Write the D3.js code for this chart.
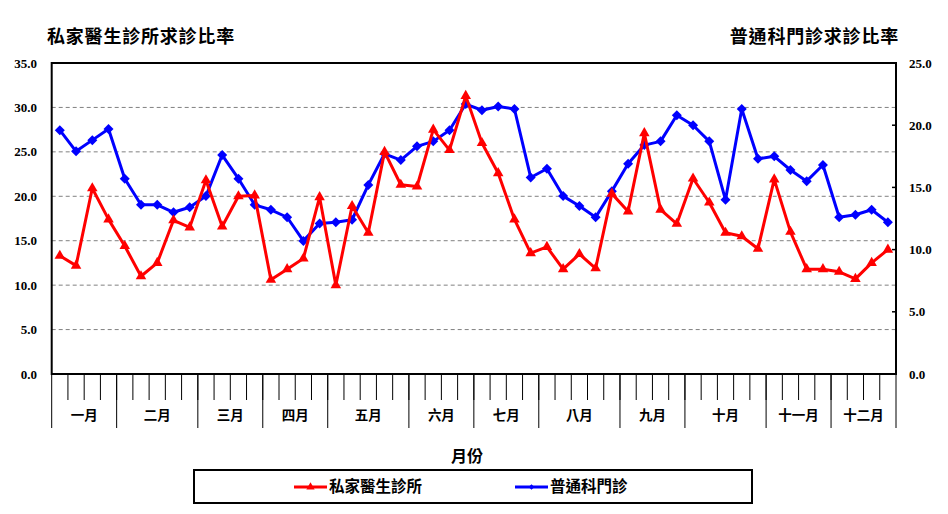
<!DOCTYPE html>
<html><head><meta charset="utf-8">
<script src="https://cdn.jsdelivr.net/npm/d3@7"></script>
<style>
body{margin:0;background:#fff;}
svg{display:block;}
.cjk{font-family:"Noto Sans CJK TC","Noto Sans CJK SC",sans-serif;font-weight:bold;}
.num{font-family:"Liberation Serif","Times New Roman",serif;font-weight:bold;}
</style>
</head><body>
<script>
const monthLabels = ["一月","二月","三月","四月","五月","六月","七月","八月","九月","十月","十一月","十二月"];
const weeksPerMonth = [4,5,4,4,5,4,4,5,4,5,4,4];
const privateClinic = [13.3,12.2,20.9,17.4,14.4,11.0,12.5,17.3,16.5,21.8,16.6,20.0,20.1,10.6,11.8,13.0,19.9,10.0,18.9,15.9,25.0,21.3,21.1,27.5,25.2,31.3,26.0,22.6,17.4,13.6,14.3,11.8,13.5,11.9,20.3,18.3,27.1,18.5,16.9,22.0,19.3,15.9,15.5,14.1,21.9,16.0,11.8,11.8,11.5,10.7,12.5,14.0];
const generalOutpatient = [19.6,17.9,18.8,19.7,15.7,13.6,13.6,13.0,13.4,14.3,17.6,15.7,13.6,13.2,12.6,10.7,12.1,12.2,12.4,15.2,17.7,17.2,18.3,18.7,19.6,21.7,21.2,21.5,21.3,15.8,16.5,14.3,13.5,12.6,14.7,16.9,18.4,18.7,20.8,20.0,18.7,14.0,21.3,17.3,17.5,16.4,15.5,16.8,12.6,12.8,13.2,12.2];
const leftTicks = [0,5,10,15,20,25,30,35];
const rightTicks = [0,5,10,15,20,25];
const seriesNames = ["私家醫生診所","普通科門診"];
const titleLeft = "私家醫生診所求診比率";
const titleRight = "普通科門診求診比率";
const xTitle = "月份";

const W=948,H=514;
const L=51.7,R=896,T=63,B=374;
const svg=d3.select("body").append("svg").attr("width",W).attr("height",H);

const weeks=d3.range(privateClinic.length);
const x=d3.scaleBand().domain(weeks).range([L,R]).padding(0);
const yL=d3.scaleLinear().domain([0,35]).range([B,T]);
const yR=d3.scaleLinear().domain([0,25]).range([B,T]);

// gridlines
svg.append("g").selectAll("line").data(leftTicks.filter(d=>d>0&&d<35)).join("line")
  .attr("x1",L).attr("x2",R).attr("y1",d=>yL(d)).attr("y2",d=>yL(d))
  .attr("stroke","#808080").attr("stroke-width",1).attr("stroke-dasharray","4,3");

// left axis labels
svg.append("g").selectAll("text").data(leftTicks).join("text").attr("class","num")
  .attr("x",37).attr("y",d=>yL(d)).attr("dy","0.35em").attr("text-anchor","end")
  .attr("font-size",13).text(d=>d.toFixed(1));
// right axis ticks & labels
svg.append("g").selectAll("line").data(rightTicks.filter(d=>d>0&&d<25)).join("line")
  .attr("x1",R-4).attr("x2",R).attr("y1",d=>yR(d)).attr("y2",d=>yR(d))
  .attr("stroke","#000").attr("stroke-width",1.5);
svg.append("g").selectAll("text").data(rightTicks).join("text").attr("class","num")
  .attr("x",909).attr("y",d=>yR(d)).attr("dy","0.35em").attr("text-anchor","start")
  .attr("font-size",13).text(d=>d.toFixed(1));

// week ticks
svg.append("g").selectAll("line").data(weeks.slice(1)).join("line")
  .attr("x1",d=>x(d)).attr("x2",d=>x(d)).attr("y1",B).attr("y2",400)
  .attr("stroke","#000").attr("stroke-width",1);
// month boundaries
const bounds=[0];weeksPerMonth.forEach(w=>bounds.push(bounds[bounds.length-1]+w));
const bx=i=> i>=weeks.length? R : x(i);
svg.append("g").selectAll("line").data(bounds).join("line")
  .attr("x1",d=>bx(d)).attr("x2",d=>bx(d)).attr("y1",B).attr("y2",428)
  .attr("stroke","#000").attr("stroke-width",1);
svg.append("g").selectAll("text").data(monthLabels).join("text").attr("class","cjk")
  .attr("x",(d,i)=>(bx(bounds[i])+bx(bounds[i+1]))/2).attr("y",415).attr("dy","0.35em")
  .attr("text-anchor","middle").attr("font-size",13.5).text(d=>d);

// frame
svg.append("rect").attr("x",L).attr("y",T).attr("width",R-L).attr("height",B-T)
  .attr("fill","none").attr("stroke","#000").attr("stroke-width",2);

// series
const cx=i=>x(i)+x.bandwidth()/2;
const lineL=d3.line().x((d,i)=>cx(i)).y(d=>yL(d));
const lineR=d3.line().x((d,i)=>cx(i)).y(d=>yR(d));
svg.append("path").datum(generalOutpatient).attr("d",lineR).attr("fill","none")
  .attr("stroke","#0000ff").attr("stroke-width",3).attr("stroke-linejoin","round");
svg.append("g").selectAll("path").data(generalOutpatient).join("path")
  .attr("d",d3.symbol().type(d3.symbolSquare).size(50)())
  .attr("transform",(d,i)=>`translate(${cx(i)},${yR(d)}) rotate(45)`).attr("fill","#0000ff");
svg.append("path").datum(privateClinic).attr("d",lineL).attr("fill","none")
  .attr("stroke","#ff0000").attr("stroke-width",3).attr("stroke-linejoin","round");
svg.append("g").selectAll("path").data(privateClinic).join("path")
  .attr("d",d3.symbol().type(d3.symbolTriangle).size(48)())
  .attr("transform",(d,i)=>`translate(${cx(i)},${yL(d)})`).attr("fill","#ff0000");

// titles
svg.append("text").attr("class","cjk").attr("x",47).attr("y",37).attr("dy","0.35em")
  .attr("font-size",18).attr("letter-spacing",0.8).text(titleLeft);
svg.append("text").attr("class","cjk").attr("x",899).attr("y",37).attr("dy","0.35em")
  .attr("text-anchor","end").attr("font-size",18).attr("letter-spacing",0.8).text(titleRight);
svg.append("text").attr("class","cjk").attr("x",467).attr("y",456).attr("dy","0.35em")
  .attr("text-anchor","middle").attr("font-size",16).text(xTitle);

// legend
svg.append("rect").attr("x",194).attr("y",470).attr("width",558).attr("height",33)
  .attr("fill","none").attr("stroke","#000").attr("stroke-width",2);
const leg=[{x:294,c:"#ff0000",t:d3.symbolTriangle,s:30,r:0},{x:515,c:"#0000ff",t:d3.symbolSquare,s:16,r:45}];
leg.forEach((l,i)=>{
  svg.append("line").attr("x1",l.x).attr("x2",l.x+33).attr("y1",487).attr("y2",487)
    .attr("stroke",l.c).attr("stroke-width",3);
  svg.append("path").attr("d",d3.symbol().type(l.t).size(l.s)())
    .attr("transform",`translate(${l.x+16.5},487) rotate(${l.r})`).attr("fill",l.c);
  svg.append("text").attr("class","cjk").attr("x",l.x+35).attr("y",487).attr("dy","0.35em")
    .attr("font-size",15.5).text(seriesNames[i]);
});
</script>
</body></html>
